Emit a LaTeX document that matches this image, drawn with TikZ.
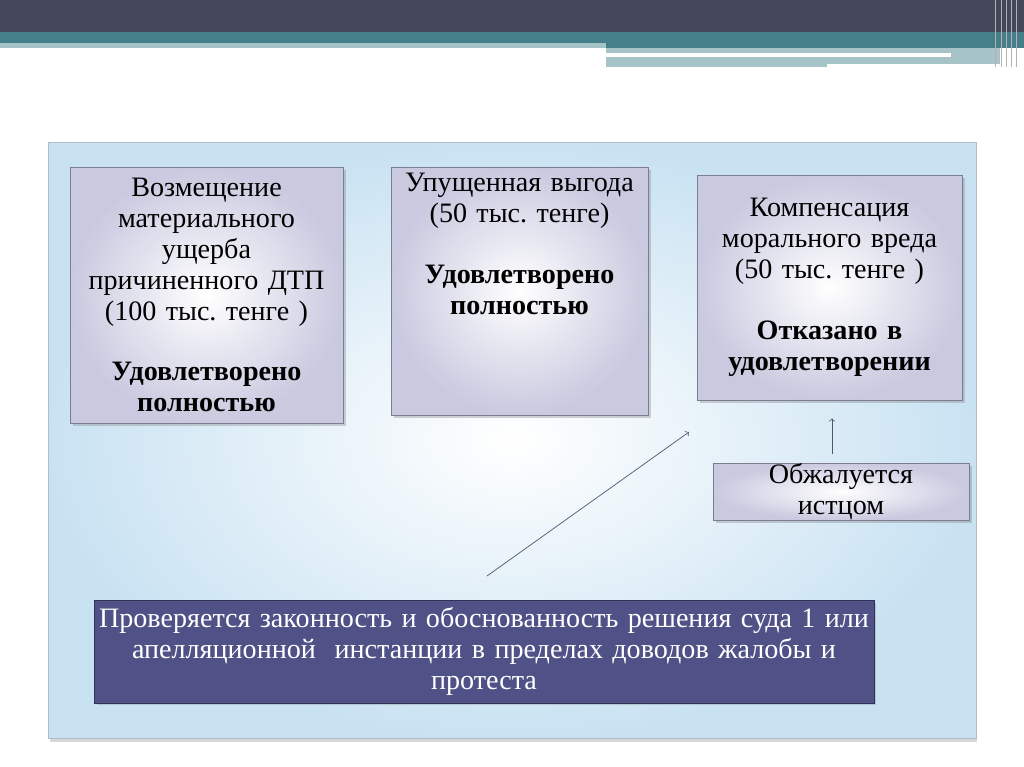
\documentclass[tikz,border=0pt]{standalone}
\usepackage{fontspec}
\setmainfont{Liberation Serif}
\frenchspacing
\usetikzlibrary{positioning,shadows}
\definecolor{topdark}{HTML}{44475A}
\definecolor{topteal}{HTML}{45808A}
\definecolor{lightteal}{HTML}{A6C4C8}
\definecolor{panelblue}{HTML}{C9E2F2}
\definecolor{panelline}{HTML}{AEBDC8}
\definecolor{lavender}{HTML}{C9C9E0}
\definecolor{boxline}{HTML}{7D7D92}
\definecolor{courtfill}{HTML}{4F5187}
\definecolor{courtline}{HTML}{30325A}
\definecolor{arrowgray}{HTML}{4C5670}

\begin{document}
\begin{tikzpicture}
[x=0.02cm, y=-0.02cm,
claimbox/.style={rectangle, draw=boxline, inner color=white, outer color=lavender,
  drop shadow={shadow xshift=0.6mm, shadow yshift=-0.6mm, opacity=0.35}},
claimtext/.style={align=center, font=\fontsize{16}{17.6}\selectfont, inner sep=0pt},
connect/.style={->, draw=arrowgray, thin}]
\useasboundingbox (0,0) rectangle (1024,767);
\fill[white] (0,0) rectangle (1024,767);
% header bars
\fill[topdark] (0,0) rectangle (1024,32);
\fill[topteal] (0,32) rectangle (1024,48);
\fill[lightteal] (0,43) rectangle (606,48);
\fill[lightteal] (606,48) rectangle (1000,67);
\fill[white] (606,53) rectangle (951,57);
\fill[white] (827,64) rectangle (1000,67);
\foreach \xs in {995,1001,1006,1011,1016}
  \draw[gray!60, line width=0.5pt] (\xs,0) -- (\xs,67);
% main panel
\node[rectangle, draw=panelline, inner color=white, outer color=panelblue,
  minimum width=18.56cm, minimum height=11.92cm,
  drop shadow={shadow xshift=0.3mm, shadow yshift=-0.8mm, opacity=0.3}] (panel) at (512,440) {};
% claim boxes
\node[claimbox, minimum width=5.46cm, minimum height=5.12cm] (damage) at (206.5,295) {};
\node[claimtext, text width=5.2cm] (damagetext) at (damage.center)
  {Возмещение\\ материального\\ ущерба\\ причиненного ДТП\\ (100 тыс. тенге )\\[17pt]
   \textbf{Удовлетворено}\\ \textbf{полностью}};
\node[claimbox, minimum width=5.14cm, minimum height=4.96cm] (profit) at (519.5,291) {};
\node[claimtext, text width=5cm, below=0.12cm of profit.north] (profittext)
  {Упущенная выгода\\ (50 тыс. тенге)\\[17pt]
   \textbf{Удовлетворено}\\ \textbf{полностью}};
\node[claimbox, minimum width=5.3cm, minimum height=4.5cm] (moral) at (829.5,287.5) {};
\node[claimtext, text width=5.1cm] (moraltext) at (moral.center)
  {Компенсация\\ морального вреда\\ (50 тыс. тенге )\\[17pt]
   \textbf{Отказано в}\\ \textbf{удовлетворении}};
\node[claimbox, minimum width=5.12cm, minimum height=1.14cm] (appeal) at (841,491.5) {};
\node[claimtext, text width=5cm] (appealtext) at (appeal.center)
  {Обжалуется\\ истцом};
% court box
\node[rectangle, draw=courtline, fill=courtfill, minimum width=15.6cm, minimum height=2.06cm,
  drop shadow={shadow xshift=0.5mm, shadow yshift=-0.5mm, opacity=0.3}] (court) at (484,651.5) {};
\node[claimtext, text=white, text width=15.6cm] (courttext) at (court.center)
  {Проверяется законность и обоснованность решения суда 1 или\\
   апелляционной\ \ инстанции в пределах доводов жалобы и\\ протеста};
% arrows
\coordinate (slantstart) at (487,576);
\coordinate (slantend) at (689,432);
\coordinate (upstart) at (832,454);
\draw[connect] (slantstart) -- (slantend);
\draw[connect, shorten >=0.36cm] (upstart) -- (upstart |- moral.south);
\end{tikzpicture}
\end{document}
